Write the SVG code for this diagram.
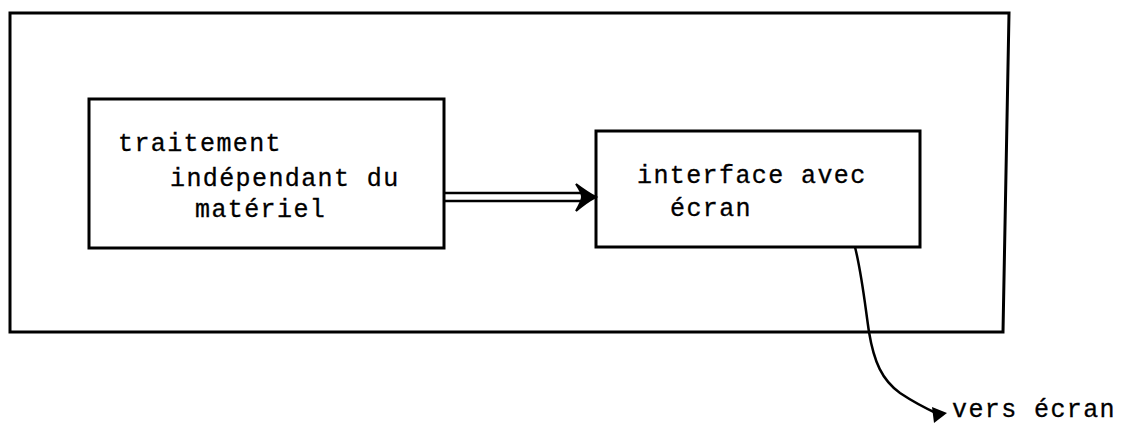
<svg xmlns="http://www.w3.org/2000/svg" width="1123" height="430" viewBox="0 0 1123 430">
<style>
.box{fill:none;stroke:#000;stroke-width:3}
.lbl{font-family:"Liberation Mono","Courier New",monospace;font-size:25px;letter-spacing:1.4px;fill:#000;stroke:#000;stroke-width:0.3}
.conn{fill:none;stroke:#000;stroke-width:2.5}
</style>
<rect width="1123" height="430" fill="#fff"/>
<g id="systeme">
<path class="box" d="M10,13 L1009,13 L1003,332 L10,332 Z"/>
</g>
<g id="traitement">
<rect class="box" x="89" y="99" width="355" height="149"/>
<text class="lbl" x="118" y="151">traitement</text>
<text class="lbl" x="170" y="186">indépendant du</text>
<text class="lbl" x="195" y="217">matériel</text>
</g>
<g id="interface">
<rect class="box" x="596" y="131" width="324" height="116"/>
<text class="lbl" x="637" y="183">interface avec</text>
<text class="lbl" x="670" y="216">écran</text>
</g>
<g id="sortie">
<text class="lbl" x="952" y="417">vers écran</text>
</g>
<g id="connectors">
<line class="conn" x1="445" y1="193" x2="584" y2="193"/>
<line class="conn" x1="445" y1="201" x2="584" y2="201"/>
<path d="M576,184 C584,190 590,194 596,197 C590,200 584,204 576,211 C580,204 582,200 582,197 C582,194 580,190 576,184 Z" fill="#000" stroke="#000" stroke-width="2"/>
<path class="conn" d="M855,247 C862,275 865,305 869,332 C874,362 882,380 900,393 C915,403 925,408 938,414"/>
<path d="M932,407 L947,413 L934,423 Z" fill="#000"/>
</g>
</svg>
